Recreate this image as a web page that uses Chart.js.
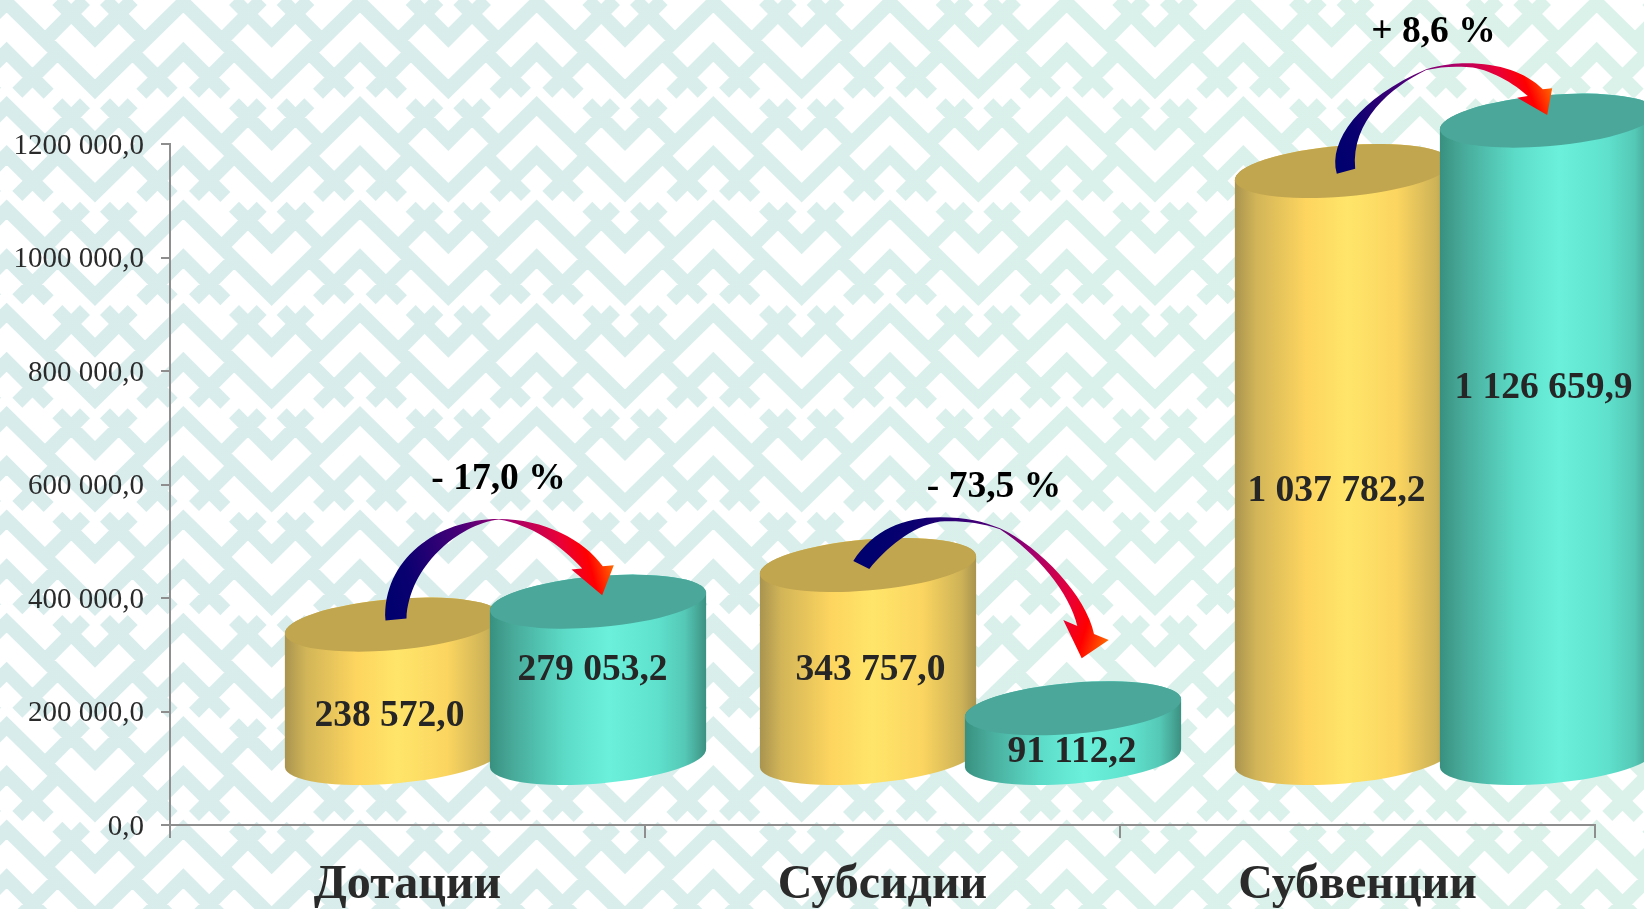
<!DOCTYPE html>
<html lang="ru">
<head>
<meta charset="utf-8">
<title>Дотации, субсидии, субвенции</title>
<script src="https://cdn.jsdelivr.net/npm/chart.js@4/dist/chart.umd.min.js"></script>
<style>
  html, body { margin: 0; padding: 0; background: #fff; overflow: hidden; }
  canvas { display: block; }
</style>
</head>
<body>
<canvas id="chart" width="1644" height="909"></canvas>
<script>
// data
const categories = ['Дотации', 'Субсидии', 'Субвенции'];
const seriesFirst = [238572.0, 343757.0, 1037782.2];
const seriesSecond = [279053.2, 91112.2, 1126659.9];
const firstLabels = ['238 572,0', '343 757,0', '1 037 782,2'];
const secondLabels = ['279 053,2', '91 112,2', '1 126 659,9'];
const changeLabels = ['- 17,0 %', '- 73,5 %', '+ 8,6 %'];
const yTickLabels = ['0,0', '200 000,0', '400 000,0', '600 000,0', '800 000,0', '1000 000,0', '1200 000,0'];

// look of the fake 3D cylinders
const depthX = 88, depthTopY = 65, depthBaseY = 66;
const ellipseRy = 25.5, ellipseTilt = -0.085;
const yellowStops = [[0, '#a8934f'], [0.1, '#d2b558'], [0.33, '#fdd55f'], [0.52, '#ffe56a'], [0.75, '#fbd560'], [0.93, '#cdb257'], [1, '#a8934f']];
const tealStops = [[0, '#38907f'], [0.1, '#47a898'], [0.35, '#5cdcc8'], [0.55, '#6bf0dc'], [0.78, '#5ee0cc'], [0.9, '#55c8b6'], [0.96, '#47a797'], [1, '#3a8f80']];
const yellowTop = '#c1a54f', tealTop = '#4aa79a';

// value label offsets from the top centre of each cylinder
const firstLabelOffsets = [[-3.5, 92], [2.5, 105], [-6.5, 320]];
const secondLabelOffsets = [[-5.5, 69], [-1, 44], [-4.5, 267.5]];
const changeLabelOffsets = [[105.5, -145], [126, -78], [90.5, -139]];

// arrow outlines, relative to the top centre of the first cylinder
const arrowShapes = [
  [[-7.5, -4], [-10.8, -65, 44.2, -105.7, 105.8, -105.7], [150.8, -105.7, 190.8, -85, 209.8, -58.3], [220.8, -59.3], [209.2, -29.3], [178.5, -55], [189.2, -56],
    [167.5, -80, 137.5, -100, 105.8, -105], [65, -100, 16, -58, 13.5, -6]],
  [[-14.7, -4], [5.3, -35, 35.3, -47.7, 72, -47.7], [98.7, -47.7, 115.3, -43.3, 132, -36.7], [172, -18.3, 218.7, 31.7, 226, 69], [240.7, 75], [213.7, 93.3], [195.3, 55], [209.3, 61],
    [202, 28.3, 168.7, -11.7, 132, -35.7], [112, -42.3, 92, -44.3, 72, -43.3], [42, -38, 18, -16, 1.3, 4]],
  [[-6.2, 2.7], [-15.2, -30, 16.5, -73.3, 83.2, -101.7], [99.8, -106.7, 113.2, -107.7, 123.2, -107.7], [156.5, -107.7, 183.2, -98.3, 199.8, -81.7], [209.2, -82.7], [204.2, -56], [174.2, -73.3], [184.8, -75],
    [166.5, -91.7, 139.8, -104, 123.2, -104], [109.8, -105, 96.5, -104, 83.2, -101], [48, -84, 8, -50, 12.2, -2.3]]
];
const arrowStops = [[0, '#00006e'], [0.12, '#0a0070'], [0.4, '#4a0078'], [0.6, '#a00070'], [0.8, '#e80038'], [0.9, '#ff0000'], [1, '#ff6a00']];

// one tile of the ornament, period tileW x tileH px, points at 3x
const tileW = 530 / 3, tileH = 310 / 3, tileBand = 14.1;
const tileLines = [
  [[-245, 268], [20, 8], [285, 268], [550, 8], [815, 268]],
  [[172, 0], [285, 113], [398, 0]],
  [[134, 122], [255, 0]],
  [[436, 122], [315, 0]],
  [[-106, 281], [20, 155], [146, 281]],
  [[171, 159], [52, 278]],
  [[399, 159], [518, 278]]
];

const ornamentPlugin = {
  id: 'ornament',
  beforeDraw(chart) {
    const ctx = chart.ctx;
    ctx.save();
    ctx.fillStyle = '#ffffff';
    ctx.fillRect(0, 0, chart.width, chart.height);
    const grad = ctx.createLinearGradient(0, 0, chart.width, 0);
    grad.addColorStop(0, '#d8ecec');
    grad.addColorStop(1, '#dbf2ea');
    ctx.strokeStyle = grad;
    ctx.lineWidth = tileBand;
    ctx.lineJoin = 'miter';
    ctx.lineCap = 'butt';
    ctx.filter = 'blur(0.6px)'; // the original background is a soft upscaled image
    ctx.beginPath();
    for (let row = -2; row < 11; row++) {
      for (let col = -2; col < 11; col++) {
        tileLines.forEach(line => {
          line.forEach((p, i) => {
            const px = p[0] / 3 + col * tileW, py = p[1] / 3 + row * tileH;
            if (i === 0) ctx.moveTo(px, py); else ctx.lineTo(px, py);
          });
        });
      }
    }
    ctx.stroke();
    ctx.restore();
  }
};

function drawCylinder(ctx, el, stops, topColor) {
  const cx = el.x + depthX, rx = el.width / 2;
  const topY = el.y - depthTopY, botY = el.base - depthBaseY;
  const body = ctx.createLinearGradient(cx - rx, 0, cx + rx, 0);
  stops.forEach(s => body.addColorStop(s[0], s[1]));
  ctx.beginPath();
  ctx.ellipse(cx, botY, rx, ellipseRy, ellipseTilt, 0, Math.PI);
  ctx.ellipse(cx, topY, rx, ellipseRy, ellipseTilt, Math.PI, Math.PI * 2);
  ctx.closePath();
  ctx.fillStyle = body;
  ctx.fill();
  ctx.beginPath();
  ctx.ellipse(cx, topY, rx, ellipseRy, ellipseTilt, 0, Math.PI * 2);
  ctx.fillStyle = topColor;
  ctx.fill();
}

function drawArrow(ctx, ox, oy, shape) {
  const wing = shape.find(p => p.length === 2 && p !== shape[0]);
  const grad = ctx.createLinearGradient(ox, oy, ox + wing[0], oy + wing[1]);
  arrowStops.forEach(s => grad.addColorStop(s[0], s[1]));
  ctx.beginPath();
  shape.forEach((p, i) => {
    if (i === 0) ctx.moveTo(ox + p[0], oy + p[1]);
    else if (p.length === 2) ctx.lineTo(ox + p[0], oy + p[1]);
    else ctx.bezierCurveTo(ox + p[0], oy + p[1], ox + p[2], oy + p[3], ox + p[4], oy + p[5]);
  });
  ctx.closePath();
  ctx.fillStyle = grad;
  ctx.fill();
}

const cylinderPlugin = {
  id: 'cylinders',
  afterLayout(chart) {
    // the tick labels sit a little below the tick marks in the original
    const y = chart.scales.y;
    if (y.shiftedLabels) return;
    const drawLabels = y.drawLabels;
    y.drawLabels = function (area) {
      chart.ctx.save();
      chart.ctx.translate(0, 2);
      drawLabels.call(this, area);
      chart.ctx.restore();
    };
    y.shiftedLabels = true;
  },
  afterDatasetsDraw(chart) {
    const ctx = chart.ctx;
    const first = chart.getDatasetMeta(0).data;
    const second = chart.getDatasetMeta(1).data;
    ctx.save();
    categories.forEach((c, i) => {
      drawCylinder(ctx, first[i], yellowStops, yellowTop);
      drawCylinder(ctx, second[i], tealStops, tealTop);
    });
    categories.forEach((c, i) => {
      const ax = first[i].x + depthX, ay = first[i].y - depthTopY;
      const bx = second[i].x + depthX, by = second[i].y - depthTopY;
      drawArrow(ctx, ax, ay, arrowShapes[i]);
      ctx.textAlign = 'center';
      ctx.textBaseline = 'middle';
      ctx.font = 'bold 37.5px "Liberation Serif"';
      ctx.fillStyle = '#262626';
      ctx.fillText(firstLabels[i], ax + firstLabelOffsets[i][0], ay + firstLabelOffsets[i][1]);
      ctx.fillText(secondLabels[i], bx + secondLabelOffsets[i][0], by + secondLabelOffsets[i][1]);
      ctx.font = 'bold 37.5px "Liberation Serif"';
      ctx.fillStyle = '#000000';
      ctx.fillText(changeLabels[i], ax + changeLabelOffsets[i][0], ay + changeLabelOffsets[i][1]);
    });
    ctx.restore();
  }
};

new Chart(document.getElementById('chart').getContext('2d'), {
  type: 'bar',
  data: {
    labels: categories,
    datasets: [
      { data: seriesFirst, backgroundColor: 'transparent', categoryPercentage: 0.8632, barPercentage: 1.0585 },
      { data: seriesSecond, backgroundColor: 'transparent', categoryPercentage: 0.8632, barPercentage: 1.0585 }
    ]
  },
  options: {
    responsive: false,
    animation: false,
    layout: { padding: { top: 144, right: 49, left: 0, bottom: 0 } },
    plugins: { legend: { display: false }, tooltip: { enabled: false }, title: { display: false } },
    scales: {
      x: {
        afterFit: scale => { scale.height = 84; },
        border: { color: '#8e8e8e', width: 2 },
        grid: { drawOnChartArea: false, tickLength: 13, color: '#8e8e8e', lineWidth: 2 },
        ticks: { color: '#2a2a2a', font: { family: '"Liberation Serif"', size: 48, weight: 'bold' }, padding: 19, maxRotation: 0, autoSkip: false }
      },
      y: {
        min: 0,
        max: 1200000,
        afterFit: scale => { scale.width = 170; },
        border: { color: '#8e8e8e', width: 2 },
        grid: { drawOnChartArea: false, tickLength: 9, color: '#8e8e8e', lineWidth: 2 },
        ticks: {
          stepSize: 200000,
          color: '#2a2a2a',
          font: { family: '"Liberation Serif"', size: 29 },
          padding: 17,
          callback: (value, index) => yTickLabels[index]
        }
      }
    }
  },
  plugins: [ornamentPlugin, cylinderPlugin]
});
</script>
</body>
</html>
